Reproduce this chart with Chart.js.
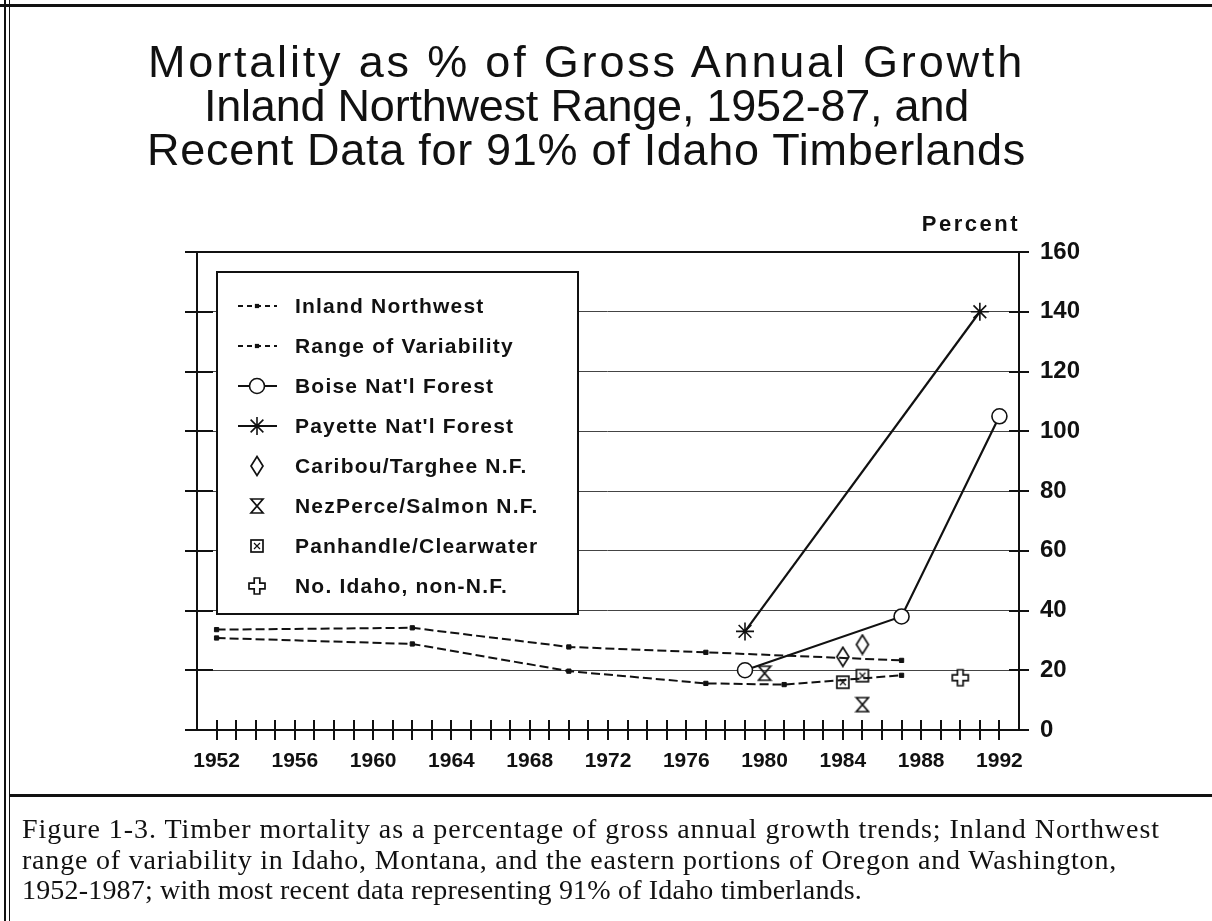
<!DOCTYPE html>
<html>
<head>
<meta charset="utf-8">
<title>Mortality as % of Gross Annual Growth</title>
<script src="https://cdn.jsdelivr.net/npm/chart.js@4.4.1/dist/chart.umd.min.js"></script>
<style>
  html, body { margin: 0; padding: 0; background: #fff; }
  #page { position: relative; width: 1212px; height: 921px; overflow: hidden; background: #fff; }
  #mortalityChart { position: absolute; left: 0; top: 0; }
  .rule { position: absolute; background: #111; }
  #title { position: absolute; left: 0; top: 40px; width: 1173px; text-align: center;
           font-family: "Liberation Sans", Arial, sans-serif; font-size: 45px; line-height: 44px; color: #111; }
  #title span, #caption span { white-space: nowrap; display: inline-block; }
  #percent { position: absolute; left: 900px; width: 120px; top: 211px; text-align: right;
             font: bold 22px "Liberation Sans", Arial, sans-serif; letter-spacing: 2.5px; color: #111; }
  #caption { position: absolute; left: 22px; top: 814px;
             font-family: "Liberation Serif", "Times New Roman", serif; font-size: 28px; line-height: 30.5px; color: #111; }
</style>
</head>
<body>
<div id="page">
  <canvas id="mortalityChart" width="1212" height="921"></canvas>

  <div class="rule" style="left:0; top:4px; width:1212px; height:3px;"></div>
  <div class="rule" style="left:4px; top:0; width:2px; height:921px;"></div>
  <div class="rule" style="left:9px; top:0; width:1px; height:921px;"></div>
  <div class="rule" style="left:9px; top:794px; width:1203px; height:3px;"></div>

  <div id="title">
    <span data-w="877">Mortality as % of Gross Annual Growth</span><br>
    <span data-w="765">Inland Northwest Range, 1952-87, and</span><br>
    <span data-w="879">Recent Data for 91% of Idaho Timberlands</span>
  </div>
  <div id="percent">Percent</div>
  <div id="caption">
    <span data-w="1138">Figure 1-3. Timber mortality as a percentage of gross annual growth trends; Inland Northwest</span><br>
    <span data-w="1095">range of variability in Idaho, Montana, and the eastern portions of Oregon and Washington,</span><br>
    <span data-w="840">1952-1987; with most recent data representing 91% of Idaho timberlands.</span>
  </div>
</div>

<script>
// values (percent of gross annual growth)
const inlandYears = [1952, 1962, 1970, 1977, 1987];
const inlandValues = [33.6, 34.2, 27.8, 26.0, 23.3];
const rangeYears = [1952, 1962, 1970, 1977, 1981, 1987];
const rangeValues = [30.8, 28.8, 19.7, 15.6, 15.2, 18.3];
const boiseYears = [1979, 1987, 1992];
const boiseValues = [20, 38, 105];
const payetteYears = [1979, 1991];
const payetteValues = [33, 140];
const caribouYears = [1984, 1985];
const caribouValues = [24.5, 28.6];
const nezPerceYears = [1980, 1985];
const nezPerceValues = [19, 8.5];
const panhandleYears = [1984, 1985];
const panhandleValues = [16, 18.2];
const noIdahoYears = [1990];
const noIdahoValues = [17.5];

const yearLabels = [1952, 1956, 1960, 1964, 1968, 1972, 1976, 1980, 1984, 1988, 1992];
const percentTicks = [0, 20, 40, 60, 80, 100, 120, 140, 160];

const ink = '#111';

// stretch title / caption lines to the widths of the scanned original
document.querySelectorAll('[data-w]').forEach(function (el) {
    el.style.letterSpacing = '0px';
    const w = el.getBoundingClientRect().width;
    const n = el.textContent.length;
    el.style.letterSpacing = ((Number(el.dataset.w) - w) / n) + 'px';
});

function pts(xs, ys) {
    return xs.map(function (x, i) { return { x: x, y: ys[i] }; });
}

function makeMarker(w, h, draw) {
    const c = document.createElement('canvas');
    c.width = w;
    c.height = h;
    const g = c.getContext('2d');
    g.strokeStyle = ink;
    g.fillStyle = '#fff';
    g.lineWidth = 1.7;
    g.lineJoin = 'miter';
    draw(g, w, h);
    return c;
}

const diamondMark = makeMarker(16, 22, function (g, w, h) {
    g.beginPath();
    g.moveTo(w / 2, 1.5); g.lineTo(w - 2, h / 2); g.lineTo(w / 2, h - 1.5); g.lineTo(2, h / 2);
    g.closePath(); g.fill(); g.stroke();
});
const hourglassMark = makeMarker(16, 18, function (g, w, h) {
    g.beginPath();
    g.moveTo(2, 2); g.lineTo(w - 2, 2); g.lineTo(2, h - 2); g.lineTo(w - 2, h - 2);
    g.closePath(); g.stroke();
});
const boxXMark = makeMarker(16, 16, function (g, w, h) {
    g.fillRect(2, 2, w - 4, h - 4);
    g.strokeRect(2, 2, w - 4, h - 4);
    g.lineWidth = 1.2;
    g.beginPath();
    g.moveTo(5, 5); g.lineTo(w - 5, h - 5);
    g.moveTo(w - 5, 5); g.lineTo(5, h - 5);
    g.stroke();
});
const plusMark = makeMarker(20, 20, function (g) {
    const c = 10, a = 2.8, e1 = 2, e2 = 18;
    g.beginPath();
    g.moveTo(c - a, e1); g.lineTo(c + a, e1); g.lineTo(c + a, c - a); g.lineTo(e2, c - a);
    g.lineTo(e2, c + a); g.lineTo(c + a, c + a); g.lineTo(c + a, e2); g.lineTo(c - a, e2);
    g.lineTo(c - a, c + a); g.lineTo(e1, c + a); g.lineTo(e1, c - a); g.lineTo(c - a, c - a);
    g.closePath(); g.fill(); g.stroke();
});

function drawMarker(ctx, ds, x, y) {
    const style = ds.pointStyle;
    const r = ds.pointRadius;
    ctx.save();
    ctx.setLineDash([]);
    ctx.lineWidth = ds.pointBorderWidth || 1;
    ctx.strokeStyle = ds.pointBorderColor || ink;
    ctx.fillStyle = ds.pointBackgroundColor || ink;
    if (style instanceof HTMLCanvasElement) {
        ctx.drawImage(style, Math.round(x - style.width / 2), Math.round(y - style.height / 2));
    } else if (style === 'circle') {
        ctx.beginPath();
        ctx.arc(x, y, r, 0, Math.PI * 2);
        ctx.fill();
        ctx.stroke();
    } else if (style === 'star') {
        ctx.beginPath();
        for (let k = 0; k < 4; k++) {
            const ang = k * Math.PI / 4;
            ctx.moveTo(x - r * Math.cos(ang), y - r * Math.sin(ang));
            ctx.lineTo(x + r * Math.cos(ang), y + r * Math.sin(ang));
        }
        ctx.stroke();
    } else if (style === 'rect') {
        const s = r * Math.SQRT1_2;
        ctx.fillRect(x - s, y - s, 2 * s, 2 * s);
    }
    ctx.restore();
}

// ticks that cross the frame, like the original plot
const crossTicks = {
    id: 'crossTicks',
    afterDatasetsDraw(chart) {
        const { ctx, chartArea: a, scales } = chart;
        ctx.save();
        ctx.strokeStyle = ink;
        ctx.lineWidth = 2;
        ctx.beginPath();
        scales.x.ticks.forEach(function (t) {
            if (t.value <= scales.x.min || t.value >= scales.x.max) return;
            const px = Math.round(scales.x.getPixelForValue(t.value));
            ctx.moveTo(px, a.bottom - 10);
            ctx.lineTo(px, a.bottom + 10);
        });
        scales.y.ticks.forEach(function (t) {
            const py = Math.round(scales.y.getPixelForValue(t.value));
            ctx.moveTo(a.left - 12, py);
            ctx.lineTo(a.left + 16, py);
            ctx.moveTo(a.right - 10, py);
            ctx.lineTo(a.right + 10, py);
        });
        ctx.stroke();
        ctx.restore();
    }
};

// boxed legend in the upper left of the plot
const legendBox = {
    id: 'legendBox',
    afterDraw(chart) {
        const { ctx, chartArea: a } = chart;
        const x0 = a.left + 20, y0 = a.top + 20, w = 361, h = 342;
        ctx.save();
        ctx.fillStyle = '#fff';
        ctx.fillRect(x0, y0, w, h);
        ctx.strokeStyle = ink;
        ctx.lineWidth = 2;
        ctx.strokeRect(x0, y0, w, h);
        ctx.font = 'bold 21px "Liberation Sans", Arial, sans-serif';
        if ('letterSpacing' in ctx) ctx.letterSpacing = '1.2px';
        ctx.textBaseline = 'middle';
        chart.data.datasets.forEach(function (ds, i) {
            const cy = y0 + 34 + i * 40;
            if (ds.showLine !== false) {
                ctx.beginPath();
                ctx.setLineDash(ds.legendDash || []);
                ctx.lineWidth = ds.borderWidth;
                ctx.strokeStyle = ink;
                ctx.moveTo(x0 + 21, cy);
                ctx.lineTo(x0 + 60, cy);
                ctx.stroke();
                ctx.setLineDash([]);
            }
            drawMarker(ctx, ds, x0 + 40, cy);
            ctx.fillStyle = ink;
            ctx.fillText(ds.label, x0 + 78, cy + 1);
        });
        ctx.restore();
    }
};

const dashedLine = {
    borderColor: ink, borderWidth: 2, borderDash: [9, 4], legendDash: [5, 4],
    pointStyle: 'rect', pointRadius: 3, pointBackgroundColor: ink, pointBorderColor: ink,
    pointBorderWidth: 1, tension: 0
};

new Chart(document.getElementById('mortalityChart'), {
    type: 'line',
    data: {
        datasets: [
            Object.assign({ label: 'Inland Northwest', data: pts(inlandYears, inlandValues) }, dashedLine),
            Object.assign({ label: 'Range of Variability', data: pts(rangeYears, rangeValues) }, dashedLine),
            {
                label: "Boise Nat'l Forest", data: pts(boiseYears, boiseValues),
                borderColor: ink, borderWidth: 2.2, pointStyle: 'circle', pointRadius: 7.5,
                pointBackgroundColor: '#fff', pointBorderColor: ink, pointBorderWidth: 1.6
            },
            {
                label: "Payette Nat'l Forest", data: pts(payetteYears, payetteValues),
                borderColor: ink, borderWidth: 2.2, pointStyle: 'star', pointRadius: 9,
                pointBackgroundColor: '#fff', pointBorderColor: ink, pointBorderWidth: 1.6
            },
            {
                label: 'Caribou/Targhee N.F.', data: pts(caribouYears, caribouValues), showLine: false,
                pointStyle: diamondMark, pointRadius: 8
            },
            {
                label: 'NezPerce/Salmon N.F.', data: pts(nezPerceYears, nezPerceValues), showLine: false,
                pointStyle: hourglassMark, pointRadius: 8
            },
            {
                label: 'Panhandle/Clearwater', data: pts(panhandleYears, panhandleValues), showLine: false,
                pointStyle: boxXMark, pointRadius: 8
            },
            {
                label: 'No. Idaho, non-N.F.', data: pts(noIdahoYears, noIdahoValues), showLine: false,
                pointStyle: plusMark, pointRadius: 8
            }
        ]
    },
    options: {
        responsive: false,
        animation: false,
        devicePixelRatio: 1,
        layout: { padding: { left: 197, top: 252, right: 0, bottom: 0 } },
        plugins: {
            legend: { display: false },
            title: { display: false },
            tooltip: { enabled: false }
        },
        scales: {
            x: {
                type: 'linear', min: 1951, max: 1993,
                grid: { drawOnChartArea: false, drawTicks: false },
                border: { display: true, color: ink, width: 2 },
                ticks: {
                    stepSize: 1, autoSkip: false, maxRotation: 0, padding: 19, color: ink,
                    font: { family: '"Liberation Sans", Arial, sans-serif', size: 21, weight: 'bold' },
                    callback: function (v) { return yearLabels.includes(v) ? String(v) : ''; }
                },
                afterFit: function (s) { s.height = 191; }
            },
            y: {
                type: 'linear', position: 'right', min: 0, max: 160,
                afterBuildTicks: function (s) { s.ticks = percentTicks.map(function (v) { return { value: v }; }); },
                grid: {
                    drawTicks: false,
                    color: function (c) { return c.tick && c.tick.value === 160 ? ink : '#444'; },
                    lineWidth: function (c) { return c.tick && c.tick.value === 160 ? 2 : 1; }
                },
                border: { display: true, color: ink, width: 2 },
                ticks: {
                    padding: 21, color: ink,
                    font: { family: '"Liberation Sans", Arial, sans-serif', size: 24, weight: 'bold' }
                },
                afterFit: function (s) { s.width = 193; }
            },
            yLeft: {
                type: 'linear', position: 'left', min: 0, max: 160,
                grid: { drawOnChartArea: false, drawTicks: false },
                border: { display: true, color: ink, width: 2 },
                ticks: { display: false }
            }
        }
    },
    plugins: [crossTicks, legendBox]
});
</script>
</body>
</html>
